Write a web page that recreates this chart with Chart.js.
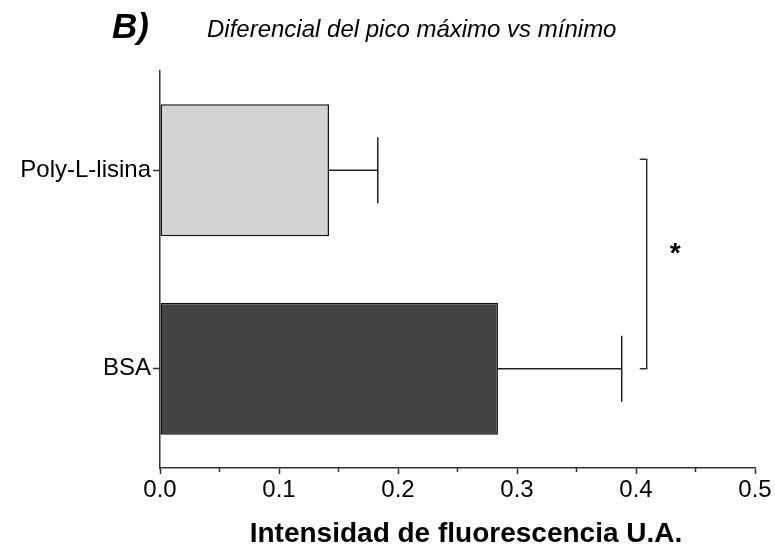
<!DOCTYPE html>
<html lang="es">
<head>
  <meta charset="UTF-8">
  <title>Diferencial del pico máximo vs mínimo</title>
  <script src="https://cdn.jsdelivr.net/npm/chart.js"></script>
  <style>
    body { margin: 0; background: #fff; }
    .caja { width: 775px; height: 546px; }
  </style>
</head>
<body>
  <div class="caja">
    <canvas id="grafico" width="775" height="546"></canvas>
  </div>
<script>
  // datos
  const categorias = ['Poly-L-lisina', 'BSA'];
  const medias = [0.142, 0.284];
  const errores = [0.041, 0.104];
  const ticksX = [0, 0.1, 0.2, 0.3, 0.4, 0.5];
  const ticksMenores = [0.05, 0.15, 0.25, 0.35, 0.45];

  // corchete de significancia (x en unidades del eje, y en índice de categoría)
  const corcheteX = 0.409;
  const corcheteY = [-0.055, 1.0];
  const asterisco = { texto: '*', x: 0.433, y: 0.38 };

  const fuente = "'Liberation Sans', Arial, sans-serif";
  const colorEje = '#333333';

  // barras de error, ticks menores, corchete y textos
  const extras = {
    id: 'extras',
    afterDatasetsDraw(chart) {
      const ctx = chart.ctx;
      const x = chart.scales.x;
      const y = chart.scales.y;
      const meta = chart.getDatasetMeta(0);

      ctx.save();
      ctx.strokeStyle = '#222';
      ctx.lineWidth = 1.5;
      for (let i = 0; i < medias.length; i++) {
        const bar = meta.data[i];
        const x0 = x.getPixelForValue(medias[i]);
        const x1 = x.getPixelForValue(medias[i] + errores[i]);
        const cy = y.getPixelForValue(i);
        const cap = bar.height / 4;
        ctx.beginPath();
        ctx.moveTo(x0, cy);
        ctx.lineTo(x1, cy);
        ctx.moveTo(x1, cy - cap);
        ctx.lineTo(x1, cy + cap);
        ctx.stroke();
      }

      // ticks menores del eje x
      ctx.strokeStyle = colorEje;
      const base = chart.chartArea.bottom;
      ticksMenores.forEach(v => {
        const px = x.getPixelForValue(v);
        ctx.beginPath();
        ctx.moveTo(px, base);
        ctx.lineTo(px, base + 4);
        ctx.stroke();
      });

      // corchete
      const bx = x.getPixelForValue(corcheteX);
      const y0 = y.getPixelForValue(corcheteY[0]);
      const y1 = y.getPixelForValue(corcheteY[1]);
      ctx.beginPath();
      ctx.moveTo(bx - 7, y0);
      ctx.lineTo(bx, y0);
      ctx.lineTo(bx, y1);
      ctx.lineTo(bx - 7, y1);
      ctx.stroke();

      ctx.fillStyle = '#000';
      ctx.textAlign = 'center';
      ctx.textBaseline = 'alphabetic';
      ctx.font = 'bold 28px ' + fuente;
      ctx.fillText(asterisco.texto, x.getPixelForValue(asterisco.x), y.getPixelForValue(asterisco.y) + 16);

      // títulos
      ctx.textAlign = 'left';
      ctx.font = 'italic bold 35px ' + fuente;
      ctx.fillText('B)', 112, 38);
      ctx.font = 'italic 24px ' + fuente;
      ctx.fillText('Diferencial del pico máximo vs mínimo', 207, 37);

      ctx.textAlign = 'center';
      ctx.font = 'bold 28px ' + fuente;
      ctx.fillText('Intensidad de fluorescencia U.A.', 466, 542);
      ctx.restore();
    }
  };

  new Chart(document.getElementById('grafico'), {
    type: 'bar',
    data: {
      labels: categorias,
      datasets: [{
        data: medias,
        backgroundColor: ['#d3d3d3', '#444444'],
        borderColor: '#111',
        borderWidth: 1.5,
        borderSkipped: false,
        barPercentage: 0.665,
        categoryPercentage: 1
      }]
    },
    options: {
      indexAxis: 'y',
      responsive: false,
      animation: false,
      devicePixelRatio: 1,
      layout: { padding: { top: 71, right: 20, left: 0, bottom: 0 } },
      plugins: {
        legend: { display: false },
        tooltip: { enabled: false }
      },
      scales: {
        x: {
          min: 0,
          max: 0.5,
          afterFit(scale) { scale.height = 78; },
          afterBuildTicks(scale) { scale.ticks = ticksX.map(v => ({ value: v })); },
          grid: { drawOnChartArea: false, tickLength: 6, tickColor: colorEje, tickWidth: 1.5 },
          border: { color: colorEje, width: 1.5 },
          ticks: {
            padding: 2,
            color: '#000',
            font: { family: fuente, size: 24 },
            callback: v => Number(v).toFixed(1)
          }
        },
        y: {
          afterFit(scale) { scale.width = 160; },
          grid: { drawOnChartArea: false, offset: false, tickLength: 7, tickColor: colorEje, tickWidth: 1.5 },
          border: { color: colorEje, width: 1.5 },
          ticks: {
            padding: 2,
            color: '#000',
            font: { family: fuente, size: 24 }
          }
        }
      }
    },
    plugins: [extras]
  });
</script>
</body>
</html>
